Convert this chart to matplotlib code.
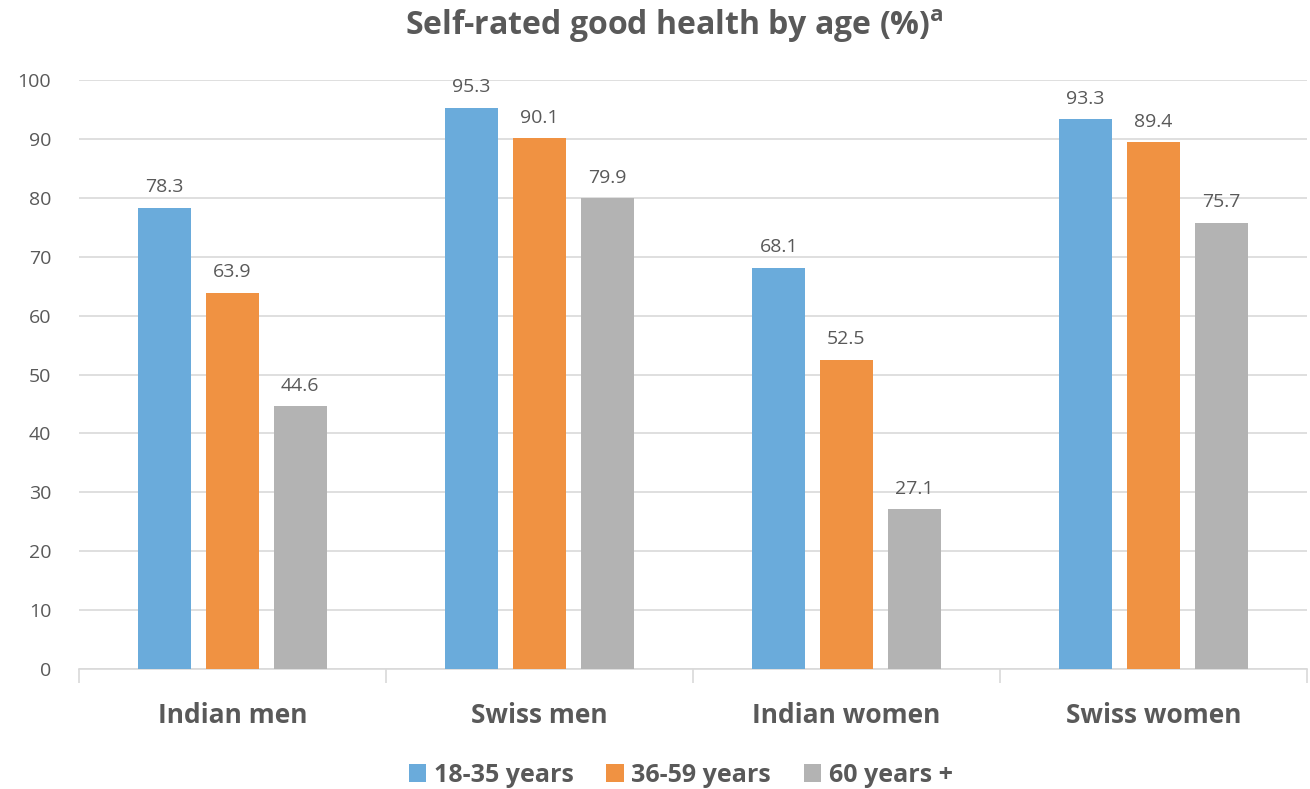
import numpy as np
import matplotlib.pyplot as plt

# data
groups = ['Indian men', 'Swiss men', 'Indian women', 'Swiss women']
series = ['18-35 years', '36-59 years', '60 years +']
young = [78.3, 95.3, 68.1, 93.3]
middle = [63.9, 90.1, 52.5, 89.4]
old = [44.6, 79.9, 27.1, 75.7]
colors = ['#6aabdb', '#f09242', '#b3b3b3']

plt.rcParams['font.family'] = ['Open Sans', 'DejaVu Sans']
plt.rcParams['mathtext.fontset'] = 'custom'
plt.rcParams['mathtext.rm'] = 'Open Sans'
plt.rcParams['mathtext.bf'] = 'Open Sans:bold'
txt = '#595959'

fig = plt.figure(figsize=(13.1, 7.89), dpi=100)
ax = fig.add_axes([0.0603, 0.152, 0.9374, 0.7466])

x = np.arange(len(groups))
w = 0.173
step = 0.221
for i, (vals, lab) in enumerate(zip([young, middle, old], series)):
    bars = ax.bar(x + (i - 1) * step, vals, width=w, color=colors[i], label=lab, zorder=3)
    for b, v in zip(bars, vals):
        ax.text(b.get_x() + b.get_width() / 2, v + 2.0, f'{v:.1f}',
                ha='center', va='bottom', fontsize=14, color=txt)

ax.set_xlim(-0.5, len(groups) - 0.5)
ax.set_ylim(0, 100)
ax.set_yticks(range(0, 101, 10))
ax.yaxis.grid(True, color='#d9d9d9', linewidth=1.2, zorder=0)
ax.tick_params(axis='y', length=0, labelsize=14, labelcolor=txt, pad=20)
ax.set_xticks(x)
ax.set_xticklabels(groups, fontsize=19, fontweight='bold', color=txt)
ax.tick_params(axis='x', length=0, pad=24)
# category separator ticks
ax.set_xticks(np.arange(-0.5, len(groups), 1), minor=True)
ax.tick_params(axis='x', which='minor', length=10, color='#d9d9d9', width=1.2)
for s in ['top', 'right', 'left']:
    ax.spines[s].set_visible(False)
ax.spines['bottom'].set_color('#d9d9d9')
ax.spines['bottom'].set_linewidth(1.2)

fig.suptitle(r'Self-rated good health by age (%)$^{\mathbf{a}}$', x=0.515, y=0.99,
             fontsize=23, fontweight='bold', color=txt)

ax.legend(loc='lower center', bbox_to_anchor=(0.49, -0.24), ncol=3, frameon=False,
          prop={'weight': 'bold', 'size': 18}, labelcolor=txt,
          handlelength=0.7, handleheight=0.7, handletextpad=0.3, columnspacing=1.3)

plt.savefig('out.png')
plt.close()
